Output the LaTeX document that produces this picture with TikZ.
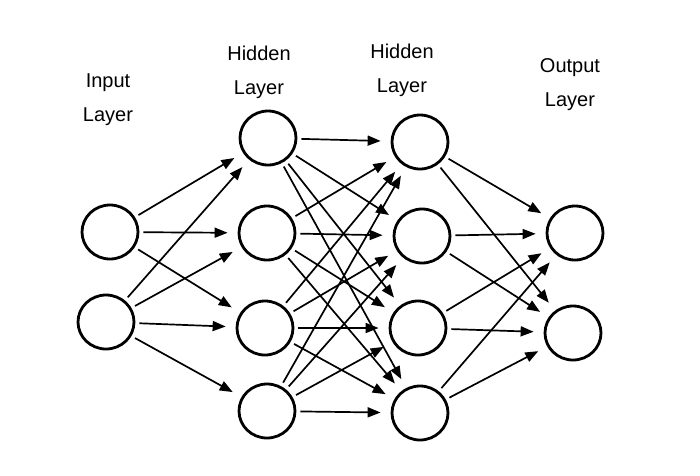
\documentclass[tikz,border=0pt]{standalone}
\usepackage{fontspec}
\setmainfont{Liberation Sans}
\usetikzlibrary{shapes.geometric,arrows.meta}
\begin{document}
\begin{tikzpicture}[x=1pt,y=-1pt,
  neuron/.style={ellipse,draw,line width=2.8pt,minimum width=56pt,minimum height=54pt,inner sep=0pt},
  conn/.style={line width=1.7pt,-{Triangle[length=13pt,width=10pt]},shorten >=10pt,shorten <=4pt},
  lbl/.style={align=center,font=\fontsize{20}{34}\selectfont}]
\useasboundingbox (0,0) rectangle (700,475);
% labels
\node[lbl] (lin) at (108,100) {Input\\Layer};
\node[lbl] (lh1) at (259,72) {Hidden\\Layer};
\node[lbl] (lh2) at (402,70) {Hidden\\Layer};
\node[lbl] (lout) at (570,85) {Output\\Layer};
% neurons
\node[neuron] (i1) at (110,232) {};
\node[neuron] (i2) at (106,322) {};
\node[neuron] (a1) at (268,138) {};
\node[neuron] (a2) at (267,233) {};
\node[neuron] (a3) at (265,328) {};
\node[neuron] (a4) at (267,411) {};
\node[neuron] (b1) at (420,142) {};
\node[neuron] (b2) at (422,236) {};
\node[neuron] (b3) at (418,328) {};
\node[neuron] (b4) at (420,413) {};
\node[neuron] (o1) at (575,233) {};
\node[neuron] (o2) at (573,333) {};
% input -> hidden 1
\foreach \t in {a1,a2,a3} \draw[conn] (i1) -- (\t);
\foreach \t in {a1,a2,a3,a4} \draw[conn] (i2) -- (\t);
% hidden 1 -> hidden 2
\foreach \s in {a1,a2,a3,a4}
  \foreach \t in {b1,b2,b3,b4}
    \draw[conn] (\s) -- (\t);
% hidden 2 -> output
\foreach \s in {b1,b2,b3,b4}
  \foreach \t in {o1,o2}
    \draw[conn] (\s) -- (\t);
\end{tikzpicture}
\end{document}
